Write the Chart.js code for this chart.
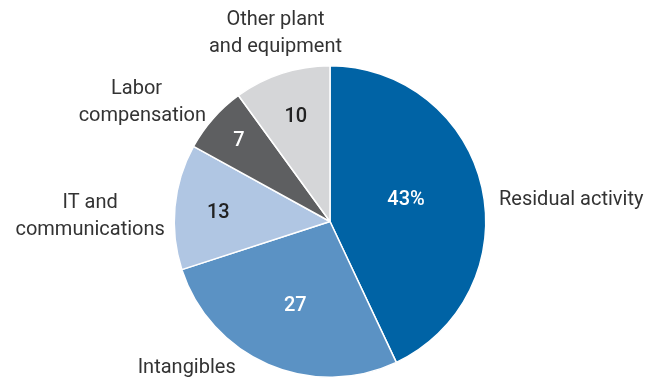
<!DOCTYPE html>
<html><head><meta charset="utf-8">
<script src="https://cdn.jsdelivr.net/npm/chart.js@4"></script>
<style>html,body{margin:0;padding:0;background:#fff;}#wrap{width:660px;height:378px;}</style>
</head><body><div id="wrap"><canvas id="c" width="660" height="378"></canvas></div>
<script>
const categories = ["Residual activity", "Intangibles", "IT and\ncommunications", "Labor\ncompensation", "Other plant\nand equipment"];
const values = [43, 27, 13, 7, 10];
const valueLabels = ["43%", "27", "13", "7", "10"];
const colors = ["#0063A5", "#5B92C4", "#B0C6E3", "#5E5F61", "#D5D6D8"];
const valueColors = ["#ffffff", "#ffffff", "#222222", "#ffffff", "#222222"];

// label placement (style): value radius fraction + vertical nudge; outer label offsets from centre in radius units
const valueRadius = [0.5, 0.56, 0.72, 0.78, 0.71];
const valueNudge = [-0.032, 0.026, 0.013, 0, 0.005];
const outerOffsets = [[1.085, -0.14, 'left'], [-0.92, 0.94, 'center'], [-1.54, -0.035, 'center'], [-1.205, -0.765, 'center'], [-0.35, -1.21, 'center']];
const lineShift = [[0], [0], [0, 0], [-0.037, 0], [0, 0]];

const labelPlugin = {
  id: 'pieLabels',
  afterDatasetsDraw(chart) {
    const ctx = chart.ctx;
    const meta = chart.getDatasetMeta(0);
    ctx.save();
    ctx.textBaseline = 'middle';
    meta.data.forEach((arc, i) => {
      const p = arc.getProps(['x', 'y', 'startAngle', 'endAngle', 'outerRadius'], true);
      const mid = (p.startAngle + p.endAngle) / 2;
      const R = p.outerRadius;
      ctx.font = '500 20px Roboto, "Liberation Sans", sans-serif';
      ctx.textAlign = 'center';
      ctx.fillStyle = valueColors[i];
      ctx.fillText(valueLabels[i], p.x + Math.cos(mid) * R * valueRadius[i], p.y + Math.sin(mid) * R * valueRadius[i] + valueNudge[i] * R);
      ctx.font = '20px Roboto, "Liberation Sans", sans-serif';
      const off = outerOffsets[i];
      const lines = categories[i].split('\n');
      ctx.fillStyle = '#333333';
      ctx.textAlign = off[2];
      const lh = 27;
      const y0 = p.y + off[1] * R - (lines.length - 1) * lh / 2;
      lines.forEach((ln, j) => {
        ctx.fillText(ln, p.x + (off[0] + lineShift[i][j]) * R, y0 + j * lh);
      });
    });
    ctx.restore();
  }
};

new Chart(document.getElementById('c'), {
  type: 'pie',
  data: {
    labels: categories,
    datasets: [{ data: values, backgroundColor: colors, borderColor: '#ffffff', borderWidth: 1.5 }]
  },
  options: {
    responsive: false,
    animation: false,
    layout: { padding: { top: 65, bottom: 0, left: 0, right: 0 } },
    plugins: { legend: { display: false }, tooltip: { enabled: false } }
  },
  plugins: [labelPlugin]
});
</script></body></html>
